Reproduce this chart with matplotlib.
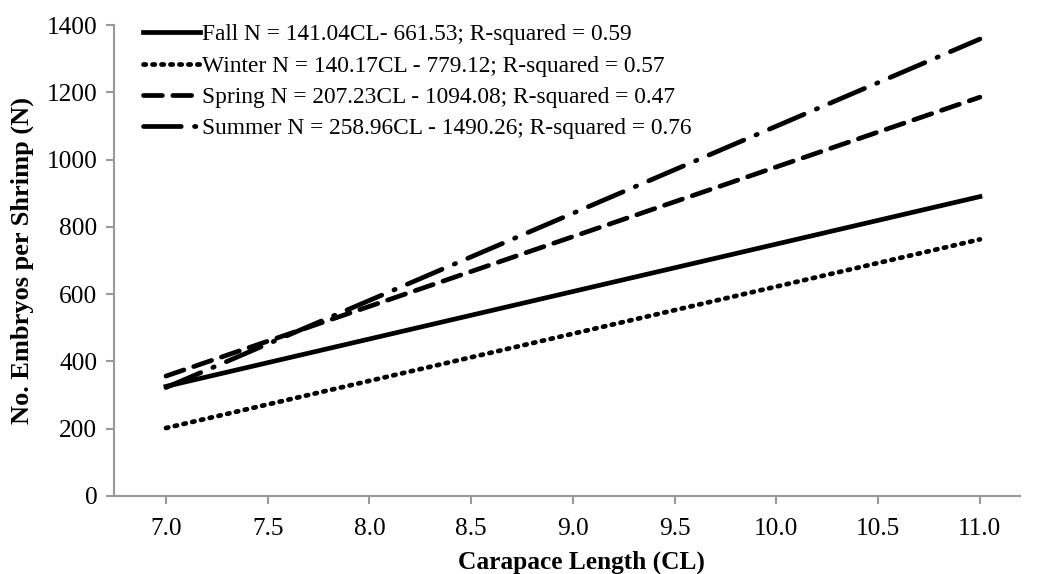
import matplotlib.pyplot as plt
import numpy as np

plt.rcParams['font.family'] = ['Liberation Serif', 'DejaVu Serif']

# regression fits: N = slope * CL + intercept
seasons = ['Fall', 'Winter', 'Spring', 'Summer']
slopes = [141.04, 140.17, 207.23, 258.96]
intercepts = [-661.53, -779.12, -1094.08, -1490.26]
r_squared = [0.59, 0.57, 0.47, 0.76]
labels = [
    'Fall N = 141.04CL- 661.53; R-squared = 0.59',
    'Winter N = 140.17CL - 779.12; R-squared = 0.57',
    'Spring N = 207.23CL - 1094.08; R-squared = 0.47',
    'Summer N = 258.96CL - 1490.26; R-squared = 0.76',
]
cl_range = [7.0, 11.0]
x_ticks = [7.0, 7.5, 8.0, 8.5, 9.0, 9.5, 10.0, 10.5, 11.0]
y_ticks = [0, 200, 400, 600, 800, 1000, 1200, 1400]

styles = [
    dict(linestyle='-', dash_capstyle='butt'),
    dict(linestyle=(0, (0.5, 1.4)), dash_capstyle='round'),
    dict(linestyle=(0, (4, 2.2)), dash_capstyle='round'),
    dict(linestyle=(0, (8, 2.8, 0.3, 2.8)), dash_capstyle='round'),
]

fig, ax = plt.subplots(figsize=(10.42, 5.74), dpi=100)
fig.subplots_adjust(left=114 / 1042, right=1020 / 1042, top=1 - 25 / 574, bottom=1 - 496 / 574)

x = np.array(cl_range)
for s, b, lab, st in zip(slopes, intercepts, labels, styles):
    ax.plot(x, s * x + b, color='black', linewidth=3.4, label=lab, **st)

ax.set_xlim(6.7445, 11.197)
ax.set_ylim(0, 1400)
ax.set_xticks(x_ticks)
ax.set_xticklabels([f'{t:.1f}' for t in x_ticks])
ax.set_yticks(y_ticks)

for side in ['top', 'right']:
    ax.spines[side].set_visible(False)
for side in ['left', 'bottom']:
    ax.spines[side].set_color('#999999')
    ax.spines[side].set_linewidth(1.5)
ax.tick_params(axis='both', colors='#999999', labelcolor='black', labelsize=18.3,
               length=6, width=1.5, direction='out')
ax.tick_params(axis='x', pad=10)
ax.tick_params(axis='y', pad=6)

ax.set_xlabel('Carapace Length (CL)', fontsize=18.3, fontweight='bold', va='center')
ax.set_ylabel('No. Embryos per Shrimp (N)', fontsize=19, fontweight='bold', va='center')
ax.xaxis.set_label_coords(0.516, -0.140)
ax.yaxis.set_label_coords(-0.101, 0.5)

ax.legend(loc='upper left', bbox_to_anchor=(0.032, 1.002), frameon=False,
          fontsize=16.8, handlelength=2.45, handletextpad=0.1, labelspacing=0.43,
          borderaxespad=0, borderpad=0)

fig.savefig('out.png', dpi=100)
